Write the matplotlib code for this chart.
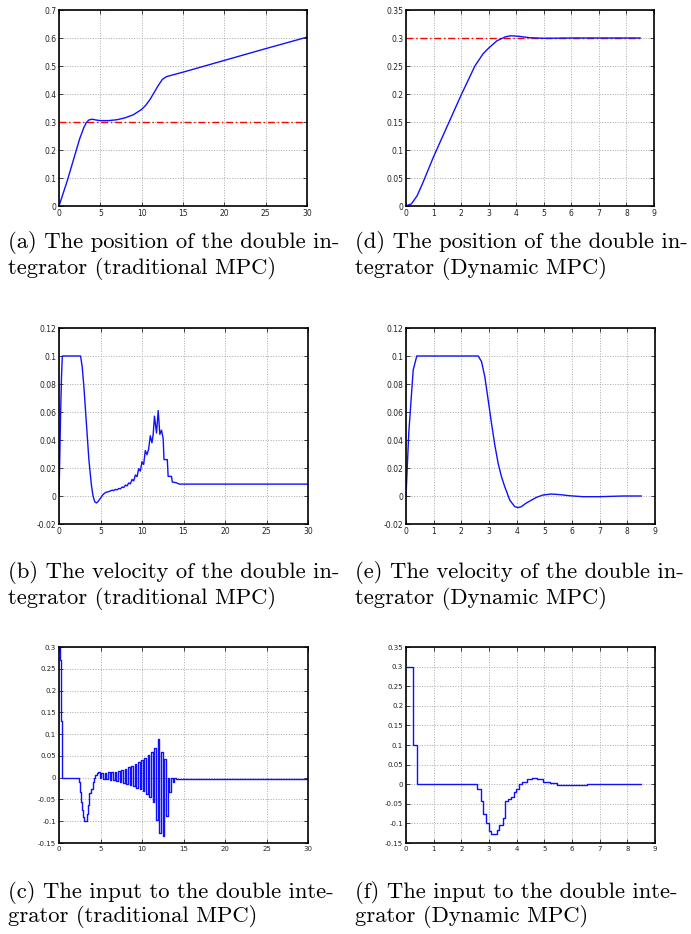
import numpy as np
import matplotlib
matplotlib.use('Agg')
import matplotlib.pyplot as plt
from matplotlib.ticker import FormatStrFormatter

# --- data --------------------------------------------------------------
# (a) position, traditional MPC
pos_trad_t = [0, 0.5, 1, 1.5, 2, 2.5, 3, 3.3, 3.6, 4, 4.5, 5, 6, 7, 8, 9, 10,
              10.5, 11, 11.5, 12, 12.5, 13, 14, 15, 20, 25, 30]
pos_trad_v = [0, 0.045, 0.09, 0.14, 0.19, 0.24, 0.28, 0.297, 0.307, 0.31, 0.307,
              0.305, 0.305, 0.308, 0.315, 0.326, 0.345, 0.36, 0.38, 0.405,
              0.43, 0.452, 0.462, 0.47, 0.478, 0.52, 0.562, 0.603]
ref_trad = 0.3

# (d) position, dynamic MPC
pos_dyn_t = [0, 0.2, 0.4, 0.6, 1, 1.5, 2, 2.5, 2.8, 3, 3.3, 3.6, 3.8, 4.1,
             4.5, 5, 5.5, 6, 8.5]
pos_dyn_v = [0, 0.004, 0.018, 0.04, 0.088, 0.143, 0.198, 0.25, 0.272, 0.282,
             0.295, 0.302, 0.304, 0.303, 0.3005, 0.2995, 0.2997, 0.3, 0.3]
ref_dyn_t = [0, 8.5]
ref_dyn = 0.3

# (b) velocity, traditional MPC
vel_trad_t = [0, 0.1, 0.2, 0.3, 0.4, 2.6, 2.8, 3.0, 3.3, 3.6, 3.9, 4.1, 4.3,
              4.5, 4.7, 5.0, 5.3, 5.6, 6.0, 6.2, 6.4, 6.6, 6.8, 7.0, 7.2, 7.4,
              7.6, 7.8, 8.0, 8.2, 8.4, 8.6, 8.8, 9.0, 9.2, 9.4, 9.6, 9.8, 10.0,
              10.2, 10.4, 10.6, 10.8, 11.0, 11.2, 11.35, 11.5, 11.75, 11.95,
              12.15, 12.35, 12.55, 12.65, 13.05, 13.15, 13.55, 13.65, 14.1,
              14.5, 30]
vel_trad_v = [0, 0.03, 0.06, 0.085, 0.1, 0.1, 0.092, 0.078, 0.052, 0.026, 0.008,
              0.0, -0.004, -0.005, -0.004, -0.0015, 0.001, 0.0025, 0.0032,
              0.0036, 0.0042, 0.0039, 0.0047, 0.0044, 0.0054, 0.0051, 0.0064,
              0.006, 0.0078, 0.0072, 0.0093, 0.0087, 0.0118, 0.0108, 0.015,
              0.0138, 0.0195, 0.0178, 0.0245, 0.0225, 0.0325, 0.0295, 0.0335,
              0.043, 0.038, 0.044, 0.057, 0.045, 0.061, 0.044, 0.047, 0.041,
              0.026, 0.026, 0.014, 0.014, 0.010, 0.0095, 0.0085, 0.0085]

# (e) velocity, dynamic MPC
vel_dyn_t = [0, 0.1, 0.26, 0.39, 2.61, 2.73, 2.85, 2.97, 3.09, 3.21, 3.33, 3.45,
             3.57, 3.75, 3.93, 4.05, 4.17, 4.35, 4.53, 4.71, 4.95, 5.25, 5.55,
             5.91, 6.39, 6.99, 7.84, 8.5]
vel_dyn_v = [0, 0.045, 0.09, 0.1, 0.1, 0.096, 0.085, 0.0686, 0.052, 0.0364,
             0.0234, 0.0138, 0.0066, -0.0029, -0.0076, -0.0083, -0.0076,
             -0.005, -0.003, -0.001, 0.0007, 0.0014, 0.001, 0.0002, -0.0005,
             -0.0005, 0.0, 0.0]

# (c) input, traditional MPC (held values, change times)
u_trad_t = [0, 0.1, 0.28, 0.4, 2.4, 2.53, 2.65, 2.73, 2.85, 2.97, 3.13, 3.33,
            3.45, 3.65, 3.86, 4.06, 4.26, 4.38, 4.54,
            4.7, 4.9, 5.1, 5.3, 5.5, 5.7, 5.9, 6.1, 6.3, 6.5, 6.7, 6.9, 7.1, 7.3,
            7.5, 7.7, 7.9, 8.1, 8.3, 8.5, 8.7, 8.9, 9.1, 9.3, 9.5, 9.7, 9.9,
            10.1, 10.3, 10.5, 10.7, 10.9, 11.1, 11.3, 11.5, 11.7, 11.9, 12.1,
            12.3, 12.5, 12.7, 12.9, 13.1, 13.3, 13.5, 13.7, 13.9, 14.1, 30]
u_trad_v = [0.3, 0.27, 0.13, 0.0, -0.01, -0.033, -0.056, -0.075, -0.09, -0.1,
            -0.1, -0.083, -0.063, -0.036, -0.026, -0.01, 0.0, 0.005, 0.01,
            0.012, -0.001, 0.011, -0.003, 0.011, -0.004, 0.012, -0.005, 0.013,
            -0.006, 0.014, -0.008, 0.016, -0.010, 0.018, -0.012, 0.021, -0.014,
            0.024, -0.016, 0.027, -0.019, 0.031, -0.023, 0.035, -0.027, 0.040,
            -0.031, 0.046, -0.037, 0.053, -0.045, 0.060, -0.056, 0.067, -0.098,
            0.088, -0.128, 0.060, -0.135, 0.042, -0.087, 0.0, -0.033, 0.0,
            -0.009, 0.0, -0.002, 0.0]

# (f) input, dynamic MPC
u_dyn_t = [0, 0.26, 0.39, 2.58, 2.70, 2.79, 2.89, 2.99, 3.09, 3.28, 3.37, 3.49,
           3.59, 3.70, 3.80, 3.89, 3.99, 4.08, 4.18, 4.36, 4.54, 4.72, 4.96,
           5.2, 5.44, 5.69, 6.05, 6.53, 8.5]
u_dyn_v = [0.3, 0.1, 0.0, -0.013, -0.043, -0.075, -0.1, -0.12, -0.127, -0.116,
           -0.103, -0.085, -0.044, -0.038, -0.032, -0.021, -0.011, 0.0, 0.006,
           0.012, 0.015, 0.012, 0.006, 0.002, -0.001, -0.002, -0.001, 0.0, 0.0]

captions = {
    'a': ['(a) The position of the double in-', 'tegrator (traditional MPC)'],
    'd': ['(d) The position of the double in-', 'tegrator (Dynamic MPC)'],
    'b': ['(b) The velocity of the double in-', 'tegrator (traditional MPC)'],
    'e': ['(e) The velocity of the double in-', 'tegrator (Dynamic MPC)'],
    'c': ['(c) The input to the double inte-', 'grator (traditional MPC)'],
    'f': ['(f) The input to the double inte-', 'grator (Dynamic MPC)'],
}

W, H = 691, 934
fig = plt.figure(figsize=(W / 100, H / 100), dpi=100)


def make_axes(left, right, top, bottom):
    return fig.add_axes([left / W, 1 - bottom / H, (right - left) / W, (bottom - top) / H])


def style(ax, xlim, xticks, ylim, yticks, fs=5.5):
    ax.set_xlim(xlim)
    ax.set_ylim(ylim)
    ax.set_xticks(xticks)
    ax.set_yticks(np.round(yticks, 3))
    ax.xaxis.set_major_formatter(FormatStrFormatter('%g'))
    ax.yaxis.set_major_formatter(FormatStrFormatter('%g'))
    ax.grid(True, linestyle=':', color='#a8a8a8', linewidth=0.7)
    ax.tick_params(direction='in', length=3, width=0.6, labelsize=fs, pad=2,
                   top=True, right=True, colors='#222222')
    for s in ax.spines.values():
        s.set_linewidth(1.2)


blue = '#1010ff'

# (a)
ax = make_axes(59, 307, 10, 206)
ax.plot([0, 30], [ref_trad, ref_trad], color='red', lw=1, dashes=(5, 2, 1, 2))
ax.plot(pos_trad_t, pos_trad_v, color=blue, lw=1)
style(ax, (0, 30), range(0, 31, 5), (0, 0.7), np.arange(0, 0.71, 0.1))

# (d)
ax = make_axes(406, 654, 10, 206)
ax.plot(ref_dyn_t, [ref_dyn, ref_dyn], color='red', lw=1, dashes=(5, 2, 1, 2))
ax.plot(pos_dyn_t, pos_dyn_v, color=blue, lw=1)
style(ax, (0, 9), range(0, 10), (0, 0.35), np.arange(0, 0.351, 0.05))

# (b)
ax = make_axes(59, 308, 328, 524)
ax.plot(vel_trad_t, vel_trad_v, color=blue, lw=1)
style(ax, (0, 30), range(0, 31, 5), (-0.02, 0.12), np.arange(-0.02, 0.121, 0.02))

# (e)
ax = make_axes(406, 655, 328, 524)
ax.plot(vel_dyn_t, vel_dyn_v, color=blue, lw=1)
style(ax, (0, 9), range(0, 10), (-0.02, 0.12), np.arange(-0.02, 0.121, 0.02))

# (c)
ax = make_axes(59, 308, 647, 843)
ax.plot(u_trad_t, u_trad_v, color=blue, lw=1, drawstyle='steps-post')
style(ax, (0, 30), range(0, 31, 5), (-0.15, 0.3), np.arange(-0.15, 0.301, 0.05), fs=5)

# (f)
ax = make_axes(406, 655, 647, 843)
ax.plot(u_dyn_t, u_dyn_v, color=blue, lw=1, drawstyle='steps-post')
style(ax, (0, 9), range(0, 10), (-0.15, 0.35), np.arange(-0.15, 0.351, 0.05), fs=5)

# captions
cap_pos = {'a': (8, 243), 'd': (355, 243), 'b': (8, 573), 'e': (355, 573),
           'c': (8, 892), 'f': (355, 892)}
for key, (x, y) in cap_pos.items():
    for i, line in enumerate(captions[key]):
        fig.text(x / W, 1 - (y + 25 * i) / H, line, family='cmr10',
                 fontsize=16.3, va='center', ha='left')

fig.savefig('out.png', dpi=100)
